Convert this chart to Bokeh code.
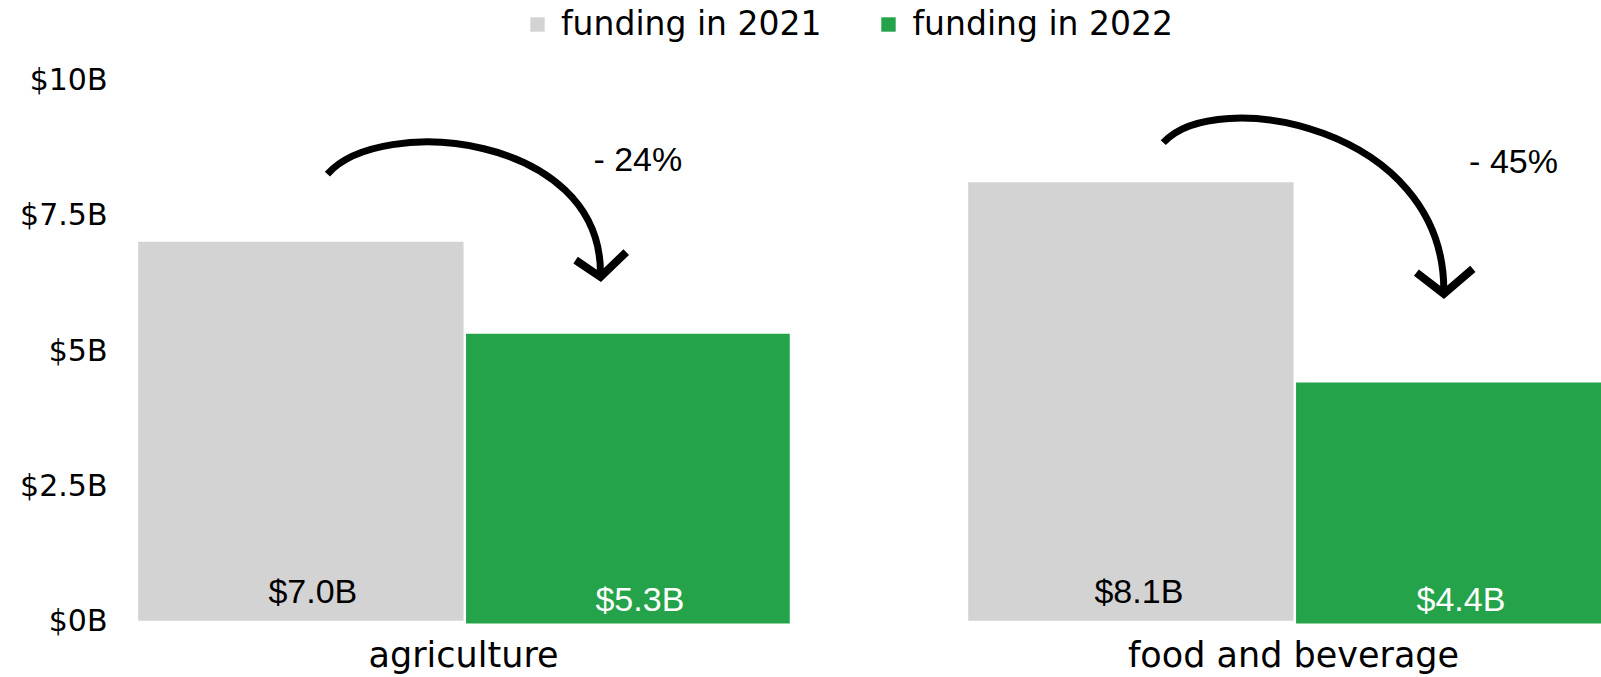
from bokeh.plotting import figure
from bokeh.models import Range1d, FixedTicker, ColumnDataSource
from bokeh.embed import file_html
from bokeh.resources import INLINE
from bokeh.core.properties import value

# ---- data ----
categories = ["agriculture", "food and beverage"]
funding_2021 = [7.0, 8.1]          # $B
funding_2022 = [5.3, 4.4]          # $B
pct_change = [-24, -45]            # %
series_names = ["funding in 2021", "funding in 2022"]
y_ticks = [0, 2.5, 5, 7.5, 10]
y_tick_labels = ["$0B", "$2.5B", "$5B", "$7.5B", "$10B"]

# ---- annotation geometry (curved arrows), offsets relative to each category ----
arc_start_dx = [-0.164, -0.157]
arc_start_y = [8.25, 8.83]
arc_c0_dx = [-0.100, -0.094]
arc_c0_y = [9.36, 9.89]
arc_c1_dx = [0.165, 0.181]
arc_c1_y = [9.00, 9.14]
arc_end_y = [6.42, 6.11]
tip_y = [6.35, 6.04]
barb_l = [(-0.030, 0.31), (-0.033, 0.39)]
barb_r = [(0.031, 0.46), (0.035, 0.46)]
pct_dx = [0.210, 0.265]
pct_y = [8.52, 8.50]
# small horizontal nudges of the value labels (px)
lab21_dx = [12, 8]
lab22_dx = [12, 3]

GREY = "#D3D3D3"
GREEN = "#24A34A"
MAIN_FONT = "DejaVu Sans"
NUM_FONT = "Liberation Sans"

idx = list(range(len(categories)))
src = ColumnDataSource(dict(
    x21=[i - 0.196 for i in idx],
    x22=[i + 0.198 for i in idx],
    v21=funding_2021,
    v22=funding_2022,
    lab21=[f"${v:.1f}B" for v in funding_2021],
    lab22=[f"${v:.1f}B" for v in funding_2022],
    dx21=lab21_dx,
    dx22=lab22_dx,
))

p = figure(width=1601, height=677,
           x_range=Range1d(-0.4133, 1.371), y_range=Range1d(-0.07, 11.457),
           output_backend="svg", toolbar_location=None,
           min_border_left=120, min_border_right=0, min_border_top=0, min_border_bottom=0)
p.outline_line_color = None
p.grid.visible = False
p.background_fill_color = "white"
p.border_fill_color = "white"

p.vbar(x="x21", top="v21", bottom=0, width=0.392, source=src,
       fill_color=GREY, line_color=None, legend_label=series_names[0])
p.vbar(x="x22", top="v22", bottom=-0.05, width=0.39, source=src,
       fill_color=GREEN, line_color=None, legend_label=series_names[1])

p.text(x="x21", y=0.55, text="lab21", source=src, text_font=value(NUM_FONT),
       text_font_size="34px", text_align="center", text_baseline="middle",
       x_offset="dx21", text_color="black")
p.text(x="x22", y=0.55, text="lab22", source=src, text_font=value(NUM_FONT),
       text_font_size="34px", text_align="center", text_baseline="middle",
       x_offset="dx22", y_offset=8, text_color="white")

# curved arrows
cx = [i + d for i, d in zip(idx, arc_c1_dx)]
p.bezier(x0=[i + d for i, d in zip(idx, arc_start_dx)], y0=arc_start_y,
         x1=cx, y1=arc_end_y,
         cx0=[i + d for i, d in zip(idx, arc_c0_dx)], cy0=arc_c0_y,
         cx1=cx, cy1=arc_c1_y,
         line_color="black", line_width=7)
heads_x = [[x + bl[0], x, x + br[0]] for x, bl, br in zip(cx, barb_l, barb_r)]
heads_y = [[ty + bl[1], ty, ty + br[1]] for ty, bl, br in zip(tip_y, barb_l, barb_r)]
p.multi_line(xs=heads_x, ys=heads_y, line_color="black", line_width=8, line_join="miter")

p.text(x=[i + d for i, d in zip(idx, pct_dx)], y=pct_y,
       text=[f"- {abs(v)}%" for v in pct_change],
       text_font=value(NUM_FONT), text_font_size="34px",
       text_align="center", text_baseline="middle", text_color="black")

# axes
p.xaxis.ticker = FixedTicker(ticks=idx)
p.xaxis.major_label_overrides = {i: c for i, c in zip(idx, categories)}
p.yaxis.ticker = FixedTicker(ticks=y_ticks)
p.yaxis.major_label_overrides = {t: l for t, l in zip(y_ticks, y_tick_labels)}
for ax in (p.xaxis, p.yaxis):
    ax.axis_line_color = None
    ax.major_tick_line_color = None
    ax.minor_tick_line_color = None
    ax.major_tick_out = 0
    ax.major_tick_in = 0
    ax.major_label_text_font = MAIN_FONT
    ax.major_label_text_color = "black"
p.xaxis.major_label_text_font_size = "35px"
p.xaxis.major_label_standoff = 10
p.yaxis.major_label_text_font_size = "30px"
p.yaxis.major_label_standoff = 13

lg = p.legend[0]
lg.location = (408, 581)
lg.orientation = "horizontal"
lg.border_line_color = None
lg.background_fill_alpha = 0
lg.label_text_font = MAIN_FONT
lg.label_text_font_size = "33px"
lg.label_text_color = "black"
lg.glyph_width = 18
lg.glyph_height = 18
lg.label_standoff = 15
lg.spacing = 58
lg.padding = 0
lg.margin = 0

open("out.html", "w").write(file_html(p, INLINE))
